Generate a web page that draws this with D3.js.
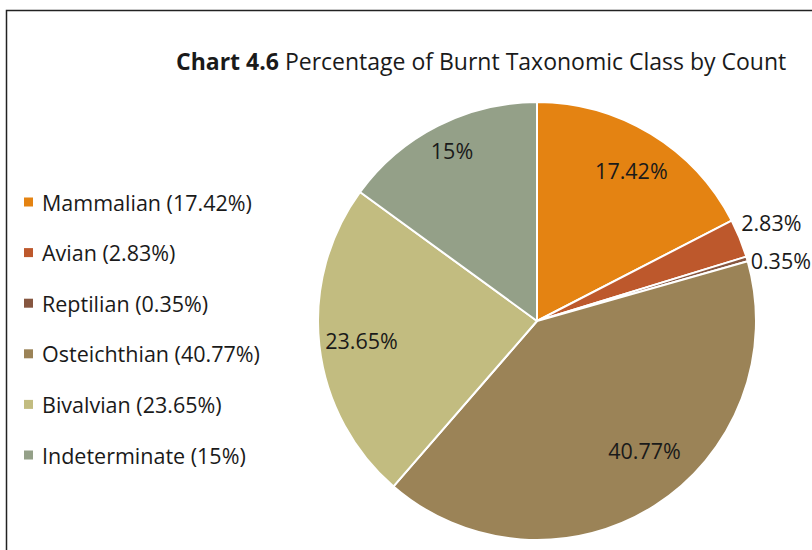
<!DOCTYPE html>
<html><head><meta charset="utf-8">
<script src="https://cdn.jsdelivr.net/npm/d3@7"></script>
<style>body{margin:0;background:#fff}svg{display:block}text{font-family:"Open Sans",sans-serif;fill:#1a1a1a}</style>
</head><body><svg id="c" width="812" height="550"></svg>
<script>
const categories = ["Mammalian","Avian","Reptilian","Osteichthian","Bivalvian","Indeterminate"];
const values = [17.42, 2.83, 0.35, 40.77, 23.65, 14.98];
const valueLabels = ["17.42%","2.83%","0.35%","40.77%","23.65%","15%"];
const legendLabels = ["Mammalian (17.42%)","Avian (2.83%)","Reptilian (0.35%)","Osteichthian (40.77%)","Bivalvian (23.65%)","Indeterminate (15%)"];
const colors = ["#E48312","#BD582C","#865640","#9B8357","#C2BC80","#94A088"];

const svg = d3.select("#c");
svg.append("path").attr("d","M6.5,550 V10.5 H812").attr("fill","none").attr("stroke","#222").attr("stroke-width",1.5);

const t = svg.append("text").attr("x",176).attr("y",70).style("font-size","23px");
t.append("tspan").attr("font-weight","bold").text("Chart 4.6");
t.append("tspan").text(" Percentage of Burnt Taxonomic Class by Count");

const cx = 537, cy = 321, R = 219;
const pie = d3.pie().sort(null).value(d=>d);
const arcs = pie(values);
const arc = d3.arc().innerRadius(0).outerRadius(R);
const g = svg.append("g").attr("transform",`translate(${cx},${cy})`);
g.selectAll("path").data(arcs).join("path")
  .attr("d",arc).attr("fill",(d,i)=>colors[i])
  .attr("stroke","#fff").attr("stroke-width",2).attr("stroke-linejoin","round");

const inside = [0,3,4,5];
const inR = [0.81,0.768,0.806,0.868];
const inShift = [0.8,-7.3,0.3,0.4];
inside.forEach((i,k)=>{
  const a = (arcs[i].startAngle+arcs[i].endAngle)/2 + inShift[k]*Math.PI/180;
  const r = R*inR[k];
  g.append("text").attr("x",r*Math.sin(a)).attr("y",-r*Math.cos(a))
   .attr("text-anchor","middle").attr("dominant-baseline","central")
   .style("font-size","21.5px").text(valueLabels[i]);
});
const outside = [[1,-6,-13],[2,-4,4]];
outside.forEach(([i,dx,dy])=>{
  const a = (arcs[i].startAngle+arcs[i].endAngle)/2;
  const r = R+8;
  g.append("text").attr("x",r*Math.sin(a)+dx).attr("y",-r*Math.cos(a)+dy)
   .attr("text-anchor","start").attr("dominant-baseline","central")
   .style("font-size","21.5px").text(valueLabels[i]);
});

const ly = d3.scalePoint().domain(categories).range([202,455]);
const lg = svg.append("g");
categories.forEach((c,i)=>{
  lg.append("rect").attr("x",24).attr("y",ly(c)-4.5).attr("width",9).attr("height",9).attr("fill",colors[i]);
  lg.append("text").attr("x",42).attr("y",ly(c)).attr("dominant-baseline","central")
    .style("font-size","21.5px").text(legendLabels[i]);
});
</script></body></html>
